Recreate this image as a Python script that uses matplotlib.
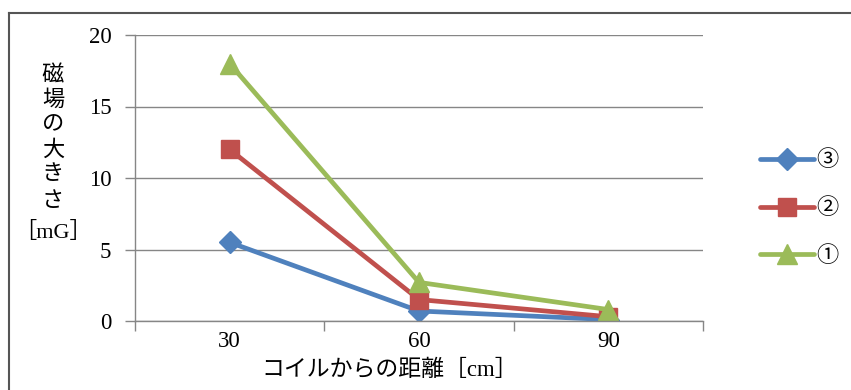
import matplotlib.pyplot as plt
from matplotlib.lines import Line2D

distance = ["30", "60", "90"]
series_names = ["③", "②", "①"]
values_3 = [5.5, 0.7, 0.1]
values_2 = [12.0, 1.5, 0.3]
values_1 = [18.0, 2.7, 0.8]

fonts = ["Liberation Serif", "Noto Sans CJK JP", "DejaVu Sans"]
plt.rcParams["font.family"] = fonts

W, H = 851, 390
fig = plt.figure(figsize=(W / 100, H / 100), dpi=100)
ax = fig.add_axes([135 / W, 1 - 321 / H, 568 / W, 286 / H])

x = list(range(len(distance)))
styles = [
    (values_3, "#4F81BD", "D", 11),
    (values_2, "#C0504D", "s", 13),
    (values_1, "#9BBB59", "^", 14),
]
for (vals, col, mk, ms), name in zip(styles, series_names):
    ax.plot(x, vals, color=col, lw=3.4, marker=mk, markersize=ms,
            markeredgecolor=col, label=name, solid_joinstyle="round",
            solid_capstyle="round")

ax.set_ylim(0, 20)
ax.set_yticks([0, 5, 10, 15, 20])
ax.set_xlim(-0.5, 2.5)
ax.set_xticks([-0.5, 0.5, 1.5, 2.5], labels=[""] * 4)
ax.set_xticks(x, labels=distance, minor=True)
ax.tick_params(axis="x", which="major", length=7, color="#868686", width=1)
ax.tick_params(axis="x", which="minor", length=0, labelsize=16.5, pad=7)
ax.tick_params(axis="y", length=7, color="#868686", width=1, labelsize=16.5, pad=10)
ax.grid(axis="y", color="#868686", lw=1)
ax.set_axisbelow(True)
for side in ["top", "right"]:
    ax.spines[side].set_visible(False)
for side in ["left", "bottom"]:
    ax.spines[side].set_color("#868686")
    ax.spines[side].set_linewidth(1)

ax.set_xlabel("コイルからの距離［cm］", fontsize=16.5, labelpad=6)
ax.xaxis.label.set_x((390 - 135) / 568)

# vertical y label, one character per row
ylabel_rows = ["磁", "場", "の", "大", "き", "さ", "［mG］"]
row_y = [76, 101, 126, 151, 176, 202, 232]
for ch, py in zip(ylabel_rows, row_y):
    fig.text(53 / W, 1 - py / H, ch, ha="center", va="center", fontsize=16)

ax.legend(loc="center left", bbox_to_anchor=(1.073, 0.392), frameon=False,
          fontsize=16, handlelength=2.45, handletextpad=0.1, labelspacing=1.22,
          borderpad=0.2)

# chart frame (only top and left edges are visible in the crop)
fig.add_artist(Line2D([0.0105, 1.0], [0.967, 0.967], color="#555555", lw=1.5))
fig.add_artist(Line2D([0.0105, 0.0105], [0.0, 0.967], color="#555555", lw=1.5))

fig.savefig("out.png", dpi=100, facecolor="white")
